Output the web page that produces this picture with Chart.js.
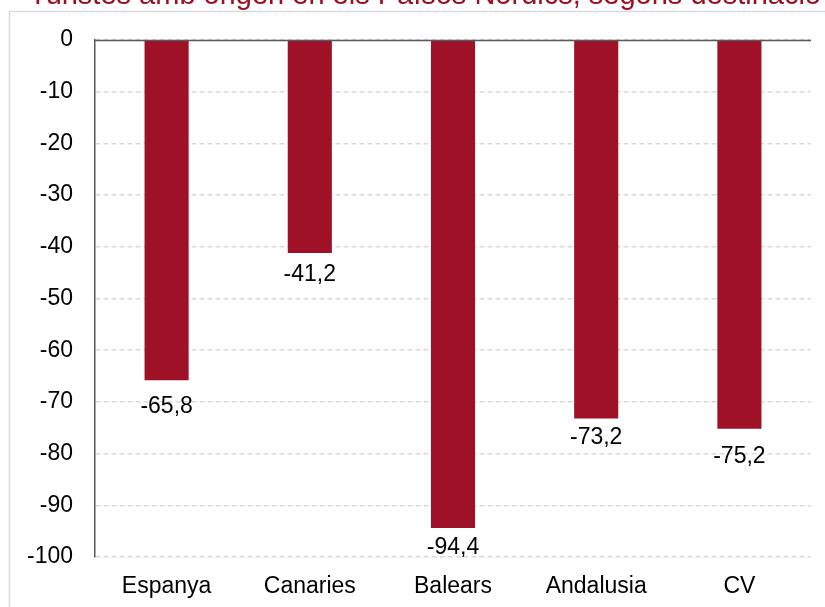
<!DOCTYPE html>
<html>
<head>
<meta charset="utf-8">
<script src="https://cdn.jsdelivr.net/npm/chart.js@4"></script>
<style>
  html, body { margin: 0; padding: 0; background: #fff; }
  #wrap { width: 825px; height: 607px; position: relative; }
</style>
</head>
<body>
<div id="wrap"><canvas id="chart" width="825" height="607"></canvas></div>
<script>
/* Turistes nòrdics per destinació — variació (%) */

const categories = ['Espanya', 'Canaries', 'Balears', 'Andalusia', 'CV'];
const values = [-65.8, -41.2, -94.4, -73.2, -75.2];
const titleText = 'Turistes amb origen en els Països Nòrdics, segons destinació';

// gap (px) between bar end and label, as placed in the original
const labelGaps = [16, 11, 9, 9, 18];

const FONT = '"Liberation Sans", Arial, sans-serif';
const RED = '#9E1126';

const framePlugin = {
  id: 'frame',
  beforeDraw(chart) {
    const { ctx } = chart;
    ctx.save();
    ctx.strokeStyle = '#d9d9d9';
    ctx.lineWidth = 1.5;
    ctx.strokeRect(9.5, 11.5, 1000, 800);
    ctx.fillStyle = '#9C0F23';
    ctx.font = '29px ' + FONT;
    ctx.textBaseline = 'alphabetic';
    ctx.fillText(titleText, 29, 4);
    ctx.restore();
  },
};

const zeroLinePlugin = {
  id: 'zeroLine',
  afterDatasetsDraw(chart) {
    const { ctx, chartArea, scales } = chart;
    const y = Math.round(scales.y.getPixelForValue(0)) + 0.5;
    ctx.save();
    ctx.strokeStyle = '#595959';
    ctx.lineWidth = 1.5;
    ctx.beginPath();
    ctx.moveTo(chartArea.left, y);
    ctx.lineTo(chartArea.right, y);
    ctx.stroke();
    ctx.restore();
  },
};

const valueLabels = {
  id: 'valueLabels',
  afterDatasetsDraw(chart) {
    const { ctx } = chart;
    const meta = chart.getDatasetMeta(0);
    ctx.save();
    ctx.fillStyle = '#000';
    ctx.font = '23px ' + FONT;
    ctx.textAlign = 'center';
    ctx.textBaseline = 'alphabetic';
    meta.data.forEach((bar, i) => {
      const txt = values[i].toFixed(1).replace('.', ',');
      ctx.fillText(txt, bar.x, bar.y + labelGaps[i] + 16.5);
    });
    ctx.restore();
  },
};

new Chart(document.getElementById('chart'), {
  type: 'bar',
  data: {
    labels: categories,
    datasets: [{
      data: values,
      backgroundColor: RED,
      borderWidth: 0,
      categoryPercentage: 1,
      barPercentage: 0.308,
    }],
  },
  options: {
    responsive: false,
    animation: false,
    events: [],
    layout: { padding: { top: 40, right: 14, left: 0, bottom: 0 } },
    plugins: {
      legend: { display: false },
      tooltip: { enabled: false },
    },
    scales: {
      x: {
        grid: { display: false, drawTicks: false },
        border: { display: false },
        ticks: { color: '#000', font: { family: FONT, size: 23 }, padding: 16, maxRotation: 0 },
        afterFit: (s) => { s.height = 50; },
      },
      y: {
        min: -100,
        max: 0,
        ticks: { stepSize: 10, color: '#000', font: { family: FONT, size: 23 }, padding: 22 },
        grid: { color: '#d9d9d9', lineWidth: 1.5, drawTicks: false },
        border: { display: true, color: '#595959', width: 1.5, dash: [5, 3] },
        afterFit: (s) => { s.width = 95; },
      },
    },
  },
  plugins: [framePlugin, zeroLinePlugin, valueLabels],
});
</script>
</body>
</html>
